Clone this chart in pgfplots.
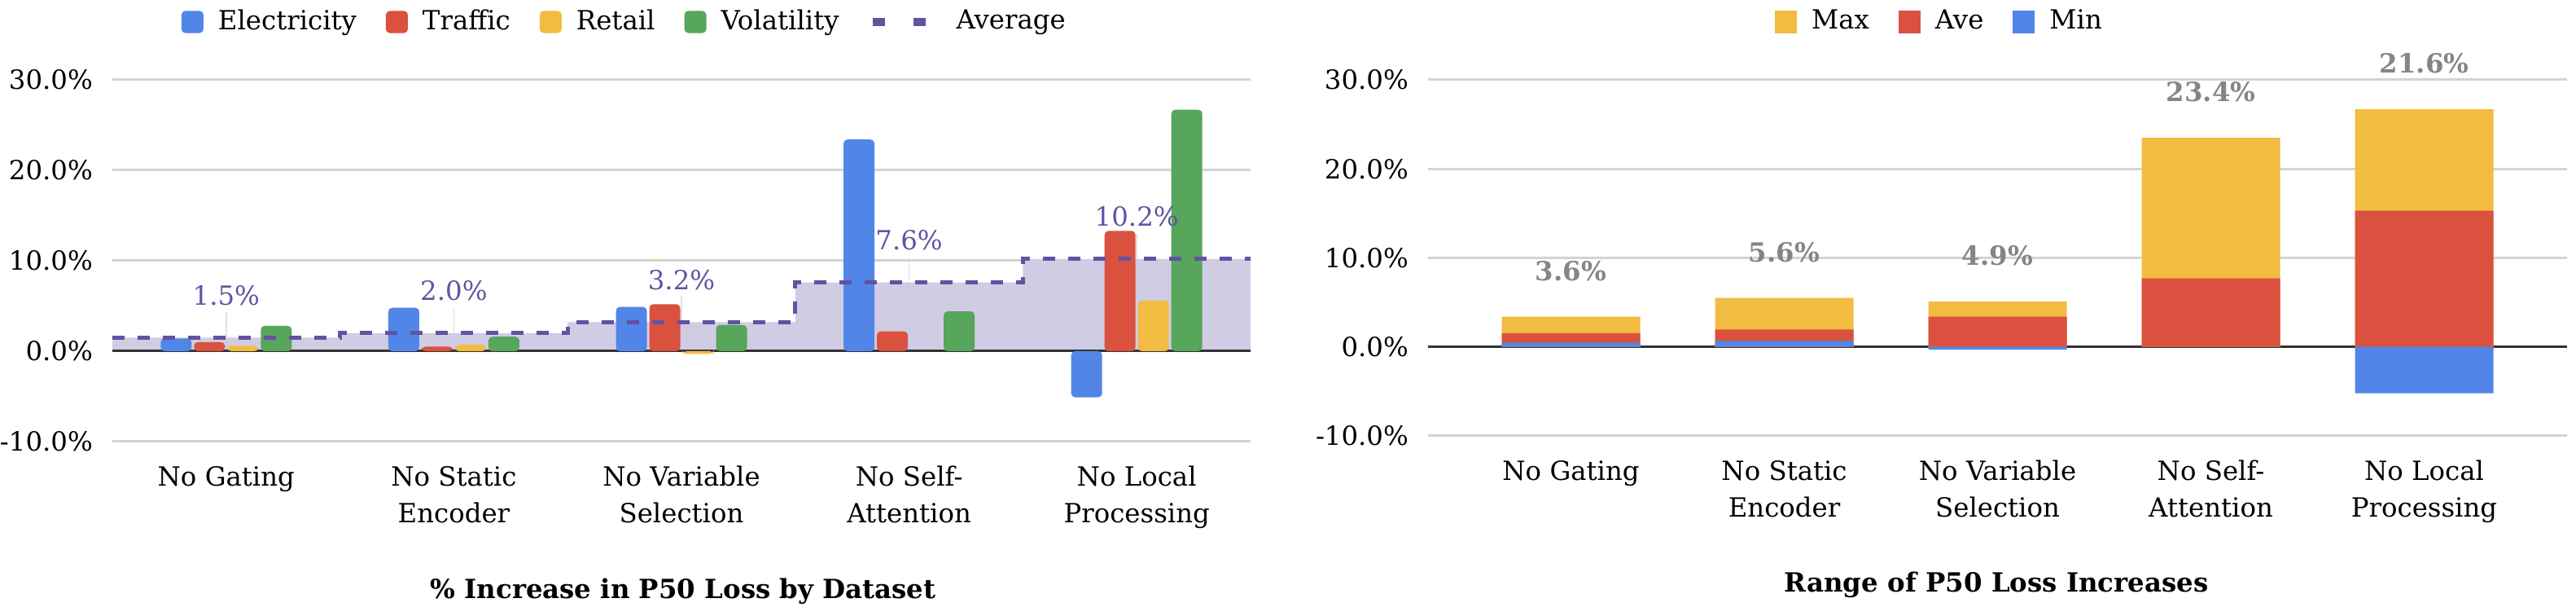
\documentclass[border=0pt]{standalone}
\usepackage{fontspec}
\setmainfont{DejaVu Serif}
\usepackage{pgfplots}
\pgfplotsset{compat=1.18}

\definecolor{cblue}{HTML}{5186E8}
\definecolor{cred}{HTML}{DB5140}
\definecolor{cyel}{HTML}{F2BC42}
\definecolor{cgreen}{HTML}{58A55C}
\definecolor{cpur}{HTML}{6252A2}
\definecolor{clav}{HTML}{D0CCE3}
\definecolor{cgrid}{HTML}{D3D3D3}
\definecolor{clab}{HTML}{858585}

\newcommand{\chartfont}{\fontsize{8.1}{11.25}\selectfont}

\pgfplotsset{
  sqleg/.style={legend image code/.code={\fill[##1] (0pt,-3.4pt) rectangle (6.75pt,3.4pt);}},
  panel/.style={
    scale only axis,
    ymin=-10, ymax=30,
    ytick={-10,0,10,20,30},
    yticklabels={-10.0\%,0.0\%,10.0\%,20.0\%,30.0\%},
    xtick={0,1,2,3,4},
    xticklabels={No Gating,{No Static\\Encoder},{No Variable\\Selection},{No Self-\\Attention},{No Local\\Processing}},
    ymajorgrids, major grid style={color=cgrid, line width=0.75pt},
    axis line style={draw=none},
    major tick length=0pt,
    tick label style={font=\chartfont},
    yticklabel style={xshift=-2.5pt},
    xticklabel style={align=center, yshift=-4pt},
    legend columns=-1,
    legend style={draw=none, fill=none, font=\chartfont, anchor=center,
      /tikz/every odd column/.append style={column sep=2.5pt},
      /tikz/every even column/.append style={column sep=7pt}},
  },
}

\begin{document}
\begin{tikzpicture}
\path[use as bounding box] (0,0) rectangle (791pt,189pt);

% left: increase by dataset
\begin{axis}[panel,
  at={(34.5pt,53.5pt)}, anchor=south west,
  width=349.5pt, height=111pt,
  xmin=-0.5, xmax=4.5,
  legend style={at={(0.452,1.16)}},
]
\addplot[const plot, fill=clav, draw=none, forget plot]
  coordinates {(-0.5,1.5) (0.5,2.0) (1.5,3.2) (2.5,7.6) (3.5,10.2) (4.5,10.2)} \closedcycle;
\addplot[color=black!80, line width=0.75pt, forget plot]
  coordinates {(-0.5,0) (4.5,0)};
% leader lines under the average labels
\addplot[draw=none, mark=none, forget plot,
  error bars/.cd, y dir=plus, y explicit, error mark=none,
  error bar style={draw=black!12, line width=0.4pt}]
  coordinates {(0,1.5) +- (0,2.8) (1,2.0) +- (0,2.8) (2,3.2) +- (0,2.8) (3,7.6) +- (0,2.8) (4,10.2) +- (0,2.8)};

\addplot[ybar, bar width=9.5pt, bar shift=-15.375pt, fill=cblue, draw=none, rounded corners=1.2pt, sqleg]
  coordinates {(0,1.4) (1,4.8) (2,4.9) (3,23.4) (4,-5.1)};
\addlegendentry{Electricity}
\addplot[ybar, bar width=9.5pt, bar shift=-5.125pt, fill=cred, draw=none, rounded corners=1.2pt, sqleg]
  coordinates {(0,1.0) (1,0.5) (2,5.2) (3,2.2) (4,13.3)};
\addlegendentry{Traffic}
\addplot[ybar, bar width=9.5pt, bar shift=5.125pt, fill=cyel, draw=none, rounded corners=1.2pt, sqleg]
  coordinates {(0,0.6) (1,0.7) (2,-0.3) (4,5.6)};
\addlegendentry{Retail}
\addplot[ybar, bar width=9.5pt, bar shift=15.375pt, fill=cgreen, draw=none, rounded corners=1.2pt, sqleg]
  coordinates {(0,2.8) (1,1.6) (2,2.9) (3,4.4) (4,26.7)};
\addlegendentry{Volatility}

\addplot[const plot, color=cpur, line width=1.2pt, dash pattern=on 3.75pt off 4pt,
  legend image code/.code={\draw[cpur, line width=2.5pt] (0pt,0pt)--(7.5pt,0pt) (12.5pt,0pt)--(20pt,0pt);}]
  coordinates {(-0.5,1.5) (0.5,2.0) (1.5,3.2) (2.5,7.6) (3.5,10.2) (4.5,10.2)};
\addlegendentry{Average}

\addplot[draw=none, mark=none, forget plot, nodes near coords, point meta=explicit symbolic,
  nodes near coords style={anchor=center, yshift=13pt, text=cpur, font=\chartfont}]
  coordinates {(0,1.5)[1.5\%] (1,2.0)[2.0\%] (2,3.2)[3.2\%] (3,7.6)[7.6\%] (4,10.2)[10.2\%]};
\end{axis}

% right: range of increases
\begin{axis}[panel,
  at={(438.5pt,55.25pt)}, anchor=south west,
  width=349.75pt, height=109.25pt,
  xmin=-0.67, xmax=4.67,
  legend style={at={(0.451,1.1625)}},
]
\addplot[color=black!80, line width=0.75pt, forget plot]
  coordinates {(-0.67,0) (4.67,0)};
\addplot[ybar, bar width=42.5pt, bar shift=0pt, fill=cyel, draw=none, sqleg,
  nodes near coords, point meta=explicit symbolic,
  nodes near coords style={anchor=center, yshift=14pt, text=clab, font=\chartfont\bfseries}]
  coordinates {(0,3.4)[3.6\%] (1,5.5)[5.6\%] (2,5.1)[4.9\%] (3,23.5)[23.4\%] (4,26.7)[21.6\%]};
\addlegendentry{Max}
\addplot[ybar, bar width=42.5pt, bar shift=0pt, fill=cred, draw=none, sqleg]
  coordinates {(0,1.55) (1,1.95) (2,3.4) (3,7.7) (4,15.3)};
\addlegendentry{Ave}
\addplot[ybar, bar width=42.5pt, bar shift=0pt, fill=cblue, draw=none, sqleg]
  coordinates {(0,0.46) (1,0.67) (2,-0.3) (4,-5.2)};
\addlegendentry{Min}
\end{axis}

\node[font=\chartfont\bfseries] at (209.75pt,7.5pt) {\% Increase in P50 Loss by Dataset};
\node[font=\chartfont\bfseries] at (613pt,9.5pt) {Range of P50 Loss Increases};
\end{tikzpicture}
\end{document}
